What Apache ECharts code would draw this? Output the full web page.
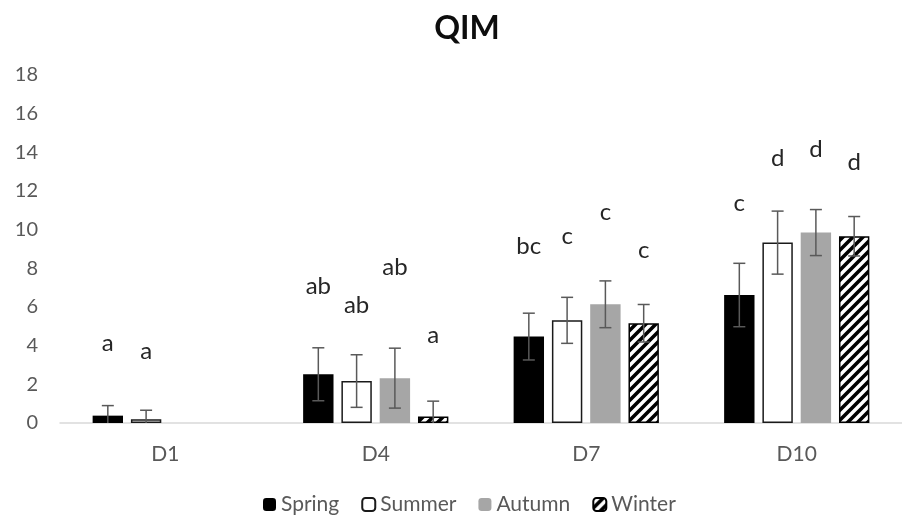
<!DOCTYPE html>
<html><head><meta charset="utf-8">
<script src="https://cdn.jsdelivr.net/npm/echarts@6/dist/echarts.min.js"></script>
<style>html,body{margin:0;padding:0;background:#fff}#c{width:902px;height:517px}</style>
</head><body><div id="c"></div>
<script>
const categories = ['D1', 'D4', 'D7', 'D10'];
const seasons = ['Spring', 'Summer', 'Autumn', 'Winter'];
const yTicks = [0, 2, 4, 6, 8, 10, 12, 14, 16, 18];

const spring = [0.38, 2.52, 4.47, 6.62];
const summer = [0.19, 2.17, 5.31, 9.33];
const autumn = [null, 2.32, 6.14, 9.85];
const winter = [null, 0.33, 5.16, 9.66];

const springErr = [0.52, 1.37, 1.21, 1.64];
const summerErr = [0.47, 1.36, 1.19, 1.63];
const autumnErr = [null, 1.55, 1.21, 1.19];
const winterErr = [null, 0.8, 0.97, 1.02];

const springLetters = ['a', 'ab', 'bc', 'c'];
const summerLetters = ['a', 'ab', 'c', 'd'];
const autumnLetters = ['', 'ab', 'c', 'd'];
const winterLetters = ['', 'a', 'c', 'd'];

const springLetterY = [4.12, 7.05, 9.12, 11.37];
const summerLetterY = [3.69, 6.1, 9.64, 13.69];
const autumnLetterY = [null, 8.05, 10.9, 14.16];
const winterLetterY = [null, 4.55, 8.95, 13.49];

const FONT = 'Lato';
const CAT_GAP = 0.31, BAR_GAP = 0.26;

function hatch() {
  const c = document.createElement('canvas');
  c.width = 10; c.height = 10;
  const g = c.getContext('2d');
  g.fillStyle = '#fff'; g.fillRect(0, 0, 10, 10);
  g.strokeStyle = '#000'; g.lineWidth = 3.6; g.lineCap = 'square';
  g.beginPath();
  g.moveTo(-5, 5); g.lineTo(5, -5);
  g.moveTo(0, 10); g.lineTo(10, 0);
  g.moveTo(5, 15); g.lineTo(15, 5);
  g.stroke();
  return c;
}

const values = [spring, summer, autumn, winter];
const errs = [springErr, summerErr, autumnErr, winterErr];
const letters = [springLetters, summerLetters, autumnLetters, winterLetters];
const letterY = [springLetterY, summerLetterY, autumnLetterY, winterLetterY];

const styles = [
  { color: '#000000' },
  { color: '#ffffff', borderColor: '#1a1a1a', borderWidth: 1.5 },
  { color: '#a6a6a6' },
  { color: { image: hatch(), repeat: 'repeat' }, borderColor: '#000', borderWidth: 1.5 }
];

function offsetFor(api, s) {
  const catW = api.size([1, 0])[0];
  const groupW = catW * (1 - CAT_GAP);
  const barW = groupW / (4 + 3 * BAR_GAP);
  return (s - 1.5) * barW * (1 + BAR_GAP);
}

const series = [];
seasons.forEach((name, s) => {
  series.push({
    name, type: 'bar', data: values[s],
    barGap: (BAR_GAP * 100) + '%', barCategoryGap: (CAT_GAP * 100) + '%',
    itemStyle: styles[s], z: 2
  });
});

// error bars
const errData = [];
seasons.forEach((n, s) => categories.forEach((c, i) => {
  if (values[s][i] != null) errData.push([i, values[s][i], errs[s][i], s]);
}));
series.push({
  type: 'custom', name: 'err', data: errData, z: 5, silent: true,
  renderItem(params, api) {
    const i = api.value(0), v = api.value(1), e = api.value(2), s = api.value(3);
    const dx = offsetFor(api, s);
    const top = api.coord([i, v + e]);
    const bot = api.coord([i, Math.max(0, v - e)]);
    const x = top[0] + dx;
    const cap = 6;
    const st = { stroke: '#595959', lineWidth: 1.5 };
    const ch = [
      { type: 'line', shape: { x1: x, y1: top[1], x2: x, y2: bot[1] }, style: st },
      { type: 'line', shape: { x1: x - cap, y1: top[1], x2: x + cap, y2: top[1] }, style: st }
    ];
    if (v - e > 0) ch.push({ type: 'line', shape: { x1: x - cap, y1: bot[1], x2: x + cap, y2: bot[1] }, style: st });
    return { type: 'group', children: ch };
  }
});

// significance letters
const letData = [];
seasons.forEach((n, s) => categories.forEach((c, i) => {
  if (letters[s][i]) letData.push([i, letterY[s][i], s, letters[s][i]]);
}));
series.push({
  type: 'custom', name: 'letters', data: letData, z: 6, silent: true,
  encode: { x: 0, y: 1 },
  renderItem(params, api) {
    const i = api.value(0), y = api.value(1), s = api.value(2);
    const txt = letData[params.dataIndex][3];
    const p = api.coord([i, y]);
    return {
      type: 'text',
      style: {
        x: p[0] + offsetFor(api, s), y: p[1], text: txt,
        align: 'center', verticalAlign: 'middle',
        fill: '#262626', font: '24px ' + FONT
      }
    };
  }
});

const chart = echarts.init(document.getElementById('c'), null, { renderer: 'canvas' });
chart.setOption({
  animation: false,
  backgroundColor: '#fff',
  title: {
    text: 'QIM', left: 462, top: 8, textAlign: 'center',
    textStyle: { fontFamily: FONT, fontSize: 32, fontWeight: 'bold', color: '#0d0d0d' }
  },
  legend: {
    data: seasons, left: 258, top: 489,
    itemWidth: 13, itemHeight: 13, itemGap: 22,
    textStyle: { fontFamily: FONT, fontSize: 21, color: '#595959' }
  },
  grid: { left: 60, top: 75, width: 844, bottom: 94, containLabel: false },
  xAxis: {
    type: 'category', data: categories,
    axisLine: { lineStyle: { color: '#d9d9d9', width: 1.5 } },
    axisTick: { show: false },
    axisLabel: { fontFamily: FONT, fontSize: 21, color: '#595959', margin: 21 }
  },
  yAxis: {
    type: 'value', min: yTicks[0], max: yTicks[yTicks.length - 1], interval: yTicks[1] - yTicks[0],
    axisLine: { show: false }, axisTick: { show: false }, splitLine: { show: false },
    axisLabel: { fontFamily: FONT, fontSize: 20, color: '#595959', margin: 22 }
  },
  series
});
</script></body></html>
